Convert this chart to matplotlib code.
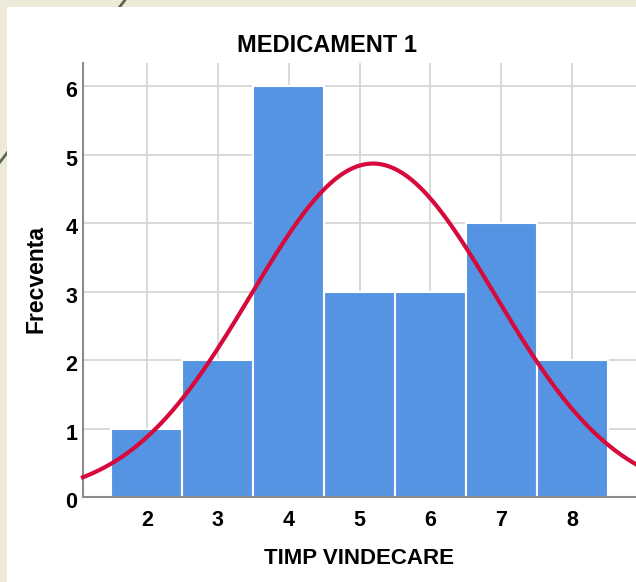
import numpy as np
import matplotlib.pyplot as plt
import matplotlib.transforms as mtransforms
from matplotlib.patches import Rectangle
from matplotlib.lines import Line2D

plt.rcParams['font.family'] = ['Liberation Sans', 'DejaVu Sans']

# histogram data (frequency per healing time)
timp = [2, 3, 4, 5, 6, 7, 8]
frecventa = [1, 2, 6, 3, 3, 4, 2]

# normal curve fitted to the data
vals = np.repeat(timp, frecventa)
n = len(vals)
mu = vals.mean()
sd = vals.std(ddof=1)


def main():
    fig = plt.figure(figsize=(6.36, 5.82), dpi=100)
    fig.patch.set_facecolor('#edebd8')

    # slide decoration + white panel (behind the axes)
    fig.add_artist(Line2D([125 / 636, -10 / 636], [1, 1 - 175 / 582],
                          color='#5d6a52', lw=2, transform=fig.transFigure,
                          zorder=-2))
    fig.add_artist(Rectangle((7 / 636, 0), 1, 1 - 7 / 582, transform=fig.transFigure,
                             facecolor='white', edgecolor='none', zorder=-1))

    ax = fig.add_axes([83 / 636, 1 - 497 / 582, 1 - 83 / 636, (497 - 63) / 582])
    ax.set_facecolor('white')

    ax.bar(timp, frecventa, width=1.0, color='#5594e2', edgecolor='white',
           linewidth=1.5, zorder=2)

    xs = np.linspace(1.1, 8.95, 300)
    ys = n * 1.0 / (sd * np.sqrt(2 * np.pi)) * np.exp(-0.5 * ((xs - mu) / sd) ** 2)
    ax.plot(xs, ys, color='#d70a3c', lw=3, zorder=3, clip_on=False)

    ax.set_xlim(1.1, 8.9)
    ax.set_ylim(0, 6.336)
    ax.set_xticks(timp)
    ax.set_yticks(range(0, 7))
    ax.grid(True, color='#d3d3d3', lw=1.2, zorder=0)
    ax.set_axisbelow(True)
    ax.tick_params(axis='x', length=0, labelsize=15.5, pad=9)
    ax.tick_params(axis='y', length=0, labelsize=15.5, pad=4)
    shift = mtransforms.ScaledTranslation(0, -3 / 100, fig.dpi_scale_trans)
    for lbl in ax.get_yticklabels():
        lbl.set_transform(lbl.get_transform() + shift)
    for lbl in ax.get_xticklabels() + ax.get_yticklabels():
        lbl.set_fontweight('bold')

    for s in ['top', 'right']:
        ax.spines[s].set_visible(False)
    for s in ['left', 'bottom']:
        ax.spines[s].set_color('#8c8c8c')
        ax.spines[s].set_linewidth(1.5)

    fig.text(327 / 636, 1 - 46 / 582, 'MEDICAMENT 1', ha='center', va='center',
             fontsize=17, fontweight='bold')
    fig.text(359 / 636, 1 - 558 / 582, 'TIMP VINDECARE', ha='center', va='center',
             fontsize=16, fontweight='bold')
    fig.text(36 / 636, 1 - 279 / 582, 'Frecventa', ha='center', va='center',
             rotation=90, fontsize=16.5, fontweight='bold')

    fig.savefig('out.png', dpi=100, facecolor=fig.get_facecolor())


main()
